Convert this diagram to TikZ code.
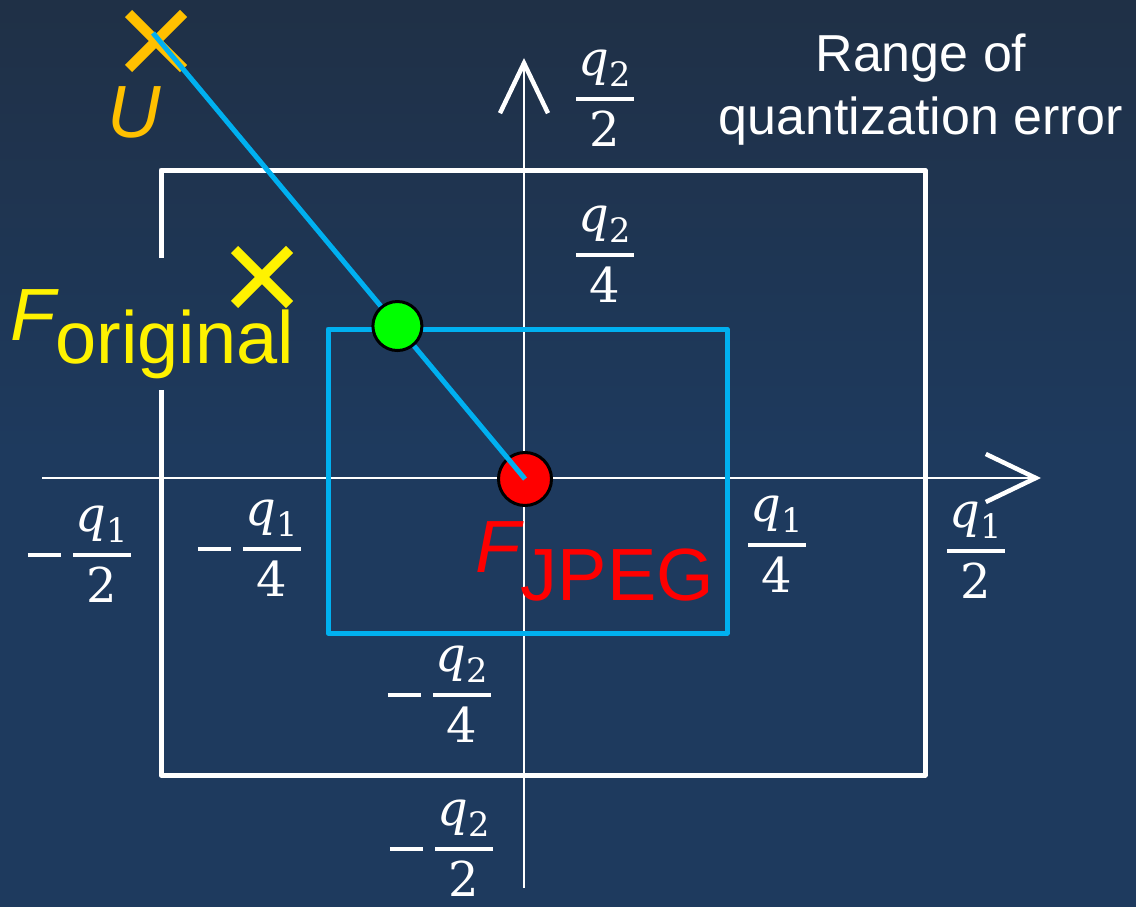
\documentclass[tikz,border=0pt]{standalone}
\usepackage{fix-cm}
\usepackage{amsmath}
\usepackage{fontspec}
\setmainfont{Liberation Sans}
\newfontfamily\qserif{DejaVu Serif}
\usetikzlibrary{arrows.meta,calc,positioning,shapes.misc}

\definecolor{bgtop}{RGB}{31,48,70}
\definecolor{bgbot}{RGB}{30,58,94}
\definecolor{qblue}{RGB}{0,176,240}
\definecolor{qorange}{RGB}{255,192,0}
\definecolor{qgreen}{RGB}{0,255,0}

\newcommand\qfrac[2]{\genfrac{}{}{3.5pt}{0}{\mkern1mu\text{\qserif\itshape q}_{\text{\qserif #1}}\mkern1mu}{\text{\qserif #2}}}
\newcommand\qminus{\rule[10.2pt]{33pt}{3.5pt}\hspace{11pt}}

\begin{document}
\begin{tikzpicture}[x=1pt,y=-1pt,
every node/.style={inner sep=0pt},
axis/.style={white,line width=2pt},
boxline/.style={line width=5pt,line join=round},
dot/.style={circle,draw=black,line width=3pt},
crossmark/.style={cross out,draw,line width=10pt,minimum size=45pt},
fraclabel/.style={white,anchor=base,font=\fontsize{48}{56}\selectfont},
biglabel/.style={anchor=base,font=\fontsize{74}{80}\selectfont}]
\shade[top color=bgtop,bottom color=bgbot,middle color=bgbot] (0,0) rectangle (1136,907);
\useasboundingbox (0,0) rectangle (1136,907);
% axes
\coordinate (xl) at (42,478);
\coordinate (xr) at (1041,478);
\coordinate (yb) at (524,888);
\coordinate (yt) at (524,58);
\draw[axis,-{Straight Barb[length=50pt,width=48pt,line width=4.5pt]}] (xl)--(xr);
\draw[axis,-{Straight Barb[length=50pt,width=48pt,line width=4.5pt]}] (yb)--(yt);
% range boxes
\coordinate (wa) at (161,258);
\coordinate (wb) at (161,170);
\coordinate (wc) at (925,170);
\coordinate (wd) at (925,775);
\coordinate (we) at (161,775);
\coordinate (wf) at (161,390);
\draw[boxline,white] (wa)--(wb)--(wc)--(wd)--(we)--(wf);
\coordinate (ba) at (328,329);
\coordinate (bb) at (727,633);
\draw[boxline,qblue] (ba) rectangle (bb);
% points
\node[crossmark,draw=qorange] (U) at (156,41) {};
\node[crossmark,draw=yellow] (orig) at (262,277) {};
\coordinate (ustart) at (153,33);
\node[dot,fill=red,minimum size=53pt] (jpeg) at (525,479) {};
\draw[qblue,line width=5pt] (ustart)--(jpeg.center);
\node[dot,fill=qgreen,minimum size=49pt] (hit) at ($(ustart)!0.657!(jpeg.center)$) {};
% labels
\node[biglabel,qorange] (Ulab) at (134,137) {\itshape U};
\node[biglabel,yellow] (origlab) at (152,340) {\itshape F\upshape\raisebox{-23pt}{original}};
\node[biglabel,red] (jpeglab) at (595,572) {\itshape F\upshape\raisebox{-28pt}{JPEG}};
\node[white,align=center,font=\fontsize{52}{63}\selectfont] (range) at (921,90) {Range of\\quantization error};
\node[fraclabel] (qyb) at (605,111) {$\qfrac{2}{2}$};
\node[fraclabel] (qys) at (605,267) {$\qfrac{2}{4}$};
\node[fraclabel] (mqys) at (440,707) {\qminus$\qfrac{2}{4}$};
\node[fraclabel] (mqyb) at (442,861) {\qminus$\qfrac{2}{2}$};
\node[fraclabel] (mqxb) at (80,567) {\qminus$\qfrac{1}{2}$};
\node[fraclabel] (mqxs) at (250,561) {\qminus$\qfrac{1}{4}$};
\node[fraclabel] (qxs) at (777,557) {$\qfrac{1}{4}$};
\node[fraclabel] (qxb) at (976,563) {$\qfrac{1}{2}$};
\end{tikzpicture}
\end{document}
